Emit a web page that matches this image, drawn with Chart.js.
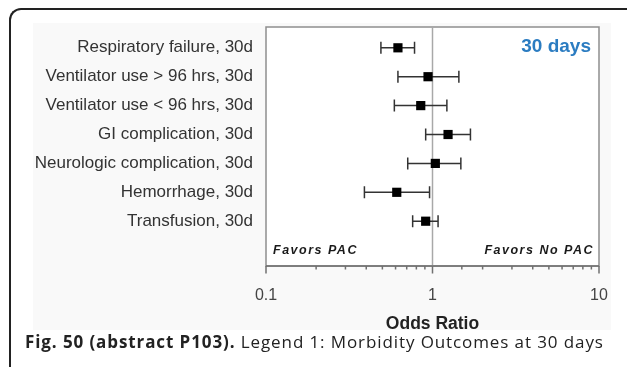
<!DOCTYPE html>
<html>
<head>
<meta charset="utf-8">
<script src="https://cdn.jsdelivr.net/npm/chart.js@4.4.1/dist/chart.umd.min.js"></script>
<style>
  html, body { margin: 0; padding: 0; background: #fff; }
  body { width: 627px; height: 367px; position: relative; overflow: hidden; }
  #frame { position: absolute; left: 9px; top: 8px; width: 660px; height: 420px;
           border-left: 2px solid #222; border-top: 2px solid #222; border-top-left-radius: 12px; }
  #panel { position: absolute; left: 33px; top: 23px; width: 578px; height: 307px; background: #f9f9f9; }
  #wrap { position: absolute; left: 0; top: 0; width: 627px; height: 367px; }
  #caption { position: absolute; left: 25px; top: 332px; font-family: "Open Sans", sans-serif;
             font-size: 17px; letter-spacing: 0.9px; line-height: 20px; color: #222; white-space: nowrap; }
</style>
</head>
<body>
<div id="frame"></div>
<div id="panel"></div>
<div id="wrap"><canvas id="forest" width="627" height="367"></canvas></div>
<div id="caption"><b>Fig. 50 (abstract P103).</b> Legend 1: Morbidity Outcomes at 30 days</div>
<script>
// outcomes, top to bottom
const outcomes = [
  'Respiratory failure, 30d',
  'Ventilator use > 96 hrs, 30d',
  'Ventilator use < 96 hrs, 30d',
  'GI complication, 30d',
  'Neurologic complication, 30d',
  'Hemorrhage, 30d',
  'Transfusion, 30d'
];
const oddsRatio = [0.62, 0.94, 0.85, 1.24, 1.04, 0.61, 0.91];
const ciLower = [0.49, 0.62, 0.59, 0.91, 0.71, 0.39, 0.76];
const ciUpper = [0.78, 1.44, 1.22, 1.69, 1.48, 0.96, 1.08];
const xTickLabels = [0.1, 1, 10];

const fontFamily = "'Liberation Sans', Arial, sans-serif";
Chart.defaults.font.family = fontFamily;

const forestPlugin = {
  id: 'forest',
  beforeDraw(chart) {
    const {ctx, chartArea: a} = chart;
    ctx.save();
    ctx.fillStyle = '#fff';
    ctx.fillRect(a.left, a.top, a.right - a.left, a.bottom - a.top);
    ctx.restore();
  },
  beforeDatasetsDraw(chart) {
    const {ctx, chartArea: a, scales: {x, y}} = chart;
    ctx.save();
    // plot box
    ctx.strokeStyle = '#8e8e8e';
    ctx.lineWidth = 1.5;
    ctx.strokeRect(a.left, a.top, a.right - a.left, a.bottom - a.top);

    // no-effect line at OR = 1
    const x1 = x.getPixelForValue(1);
    ctx.strokeStyle = '#a8a8a8';
    ctx.beginPath();
    ctx.moveTo(x1, a.top);
    ctx.lineTo(x1, a.bottom);
    ctx.stroke();

    // axis line + ticks (long for decades, short otherwise)
    ctx.strokeStyle = '#707070';
    ctx.beginPath();
    ctx.moveTo(a.left, a.bottom);
    ctx.lineTo(a.right, a.bottom);
    x.ticks.forEach(t => {
      const px = x.getPixelForValue(t.value);
      const major = xTickLabels.some(v => Math.abs(v - t.value) < 1e-9);
      ctx.moveTo(px, a.bottom);
      ctx.lineTo(px, a.bottom + (major ? 7.5 : 3.5));
    });
    ctx.stroke();

    // confidence intervals
    ctx.strokeStyle = '#333';
    ctx.lineWidth = 1.5;
    ctx.beginPath();
    outcomes.forEach((_, i) => {
      const py = y.getPixelForValue(i);
      const lo = x.getPixelForValue(ciLower[i]);
      const hi = x.getPixelForValue(ciUpper[i]);
      ctx.moveTo(lo, py); ctx.lineTo(hi, py);
      ctx.moveTo(lo, py - 6); ctx.lineTo(lo, py + 6);
      ctx.moveTo(hi, py - 6); ctx.lineTo(hi, py + 6);
    });
    ctx.stroke();
    ctx.restore();
  },
  afterDraw(chart) {
    const {ctx, chartArea: a} = chart;
    ctx.save();
    ctx.fillStyle = '#2b7cc1';
    ctx.font = 'bold 19px ' + fontFamily;
    ctx.textAlign = 'right';
    ctx.textBaseline = 'alphabetic';
    ctx.fillText('30 days', a.right - 8, a.top + 24.5);

    ctx.fillStyle = '#1a1a1a';
    ctx.font = 'italic bold 12.5px ' + fontFamily;
    ctx.letterSpacing = '1.5px';
    ctx.textAlign = 'left';
    ctx.fillText('Favors PAC', a.left + 7, a.bottom - 12.5);
    ctx.textAlign = 'right';
    ctx.fillText('Favors No PAC', a.right - 5, a.bottom - 12.5);
    ctx.restore();
  }
};

new Chart(document.getElementById('forest'), {
  type: 'scatter',
  data: {
    datasets: [{
      data: oddsRatio.map((v, i) => ({x: v, y: i})),
      pointStyle: 'rect',
      pointRadius: 6.5,
      backgroundColor: '#000',
      borderColor: '#000',
      borderWidth: 0
    }]
  },
  options: {
    responsive: false,
    animation: false,
    layout: { padding: { top: 27, right: 28, left: 0, bottom: 0 } },
    plugins: { legend: { display: false }, tooltip: { enabled: false } },
    scales: {
      x: {
        type: 'logarithmic',
        min: 0.1,
        max: 10,
        grid: { display: false },
        border: { display: false },
        ticks: {
          autoSkip: false,
          maxRotation: 0,
          padding: 12,
          color: '#444',
          font: { size: 16 },
          callback: (v) => {
            const t = xTickLabels.find(l => Math.abs(l - v) < 1e-9);
            return t === undefined ? '' : String(t);
          }
        },
        title: {
          display: true,
          text: 'Odds Ratio',
          color: '#222',
          font: { size: 17.5, weight: 'bold' },
          padding: { top: 0, bottom: 32 }
        },
        afterFit: (s) => { s.height = 101; }
      },
      y: {
        type: 'linear',
        reverse: true,
        min: -0.72,
        max: 7.55,
        grid: { display: false },
        border: { display: false },
        afterBuildTicks: (s) => { s.ticks = outcomes.map((_, i) => ({value: i})); },
        ticks: {
          padding: 5,
          color: '#333',
          font: { size: 17 },
          callback: (v) => outcomes[v]
        },
        afterFit: (s) => { s.width = 266; }
      }
    }
  },
  plugins: [forestPlugin]
});
</script>
</body>
</html>
